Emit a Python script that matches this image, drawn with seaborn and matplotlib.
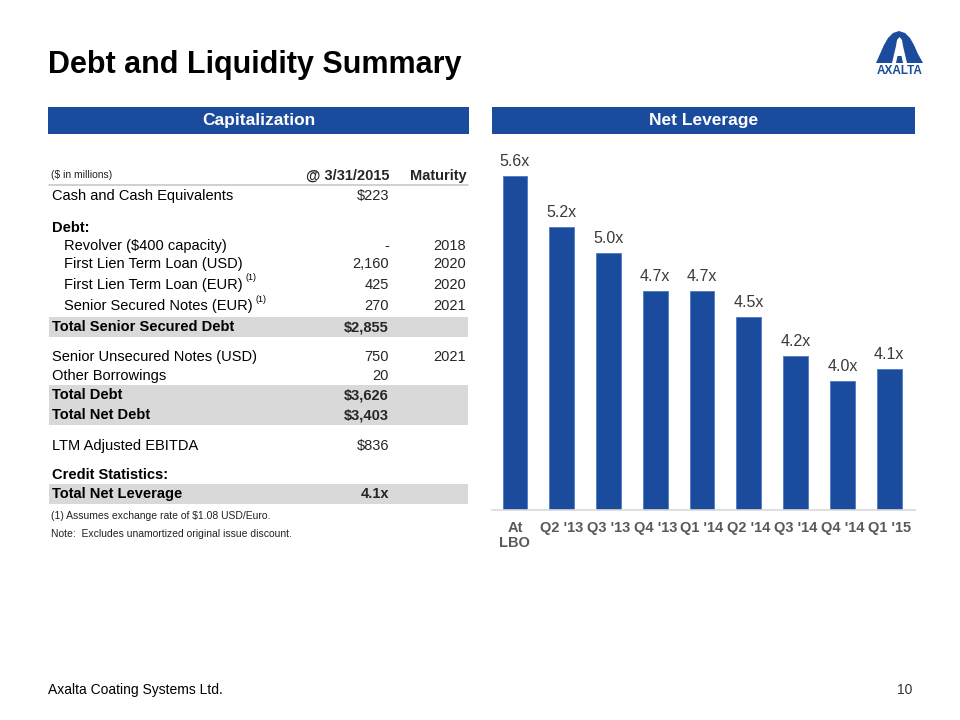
import numpy as np
import pandas as pd
import matplotlib
matplotlib.use("Agg")
import matplotlib.pyplot as plt
import seaborn as sns
from matplotlib.patches import Rectangle, Polygon

# ---- data ----
periods = ["At\nLBO", "Q2 '13", "Q3 '13", "Q4 '13", "Q1 '14", "Q2 '14", "Q3 '14", "Q4 '14", "Q1 '15"]
leverage = [5.6, 5.2, 5.0, 4.7, 4.7, 4.5, 4.2, 4.0, 4.1]

row_labels = ["Cash and Cash Equivalents", "Debt:", "Revolver ($400 capacity)",
              "First Lien Term Loan (USD)", "First Lien Term Loan (EUR)",
              "Senior Secured Notes (EUR)", "Total Senior Secured Debt",
              "Senior Unsecured Notes (USD)", "Other Borrowings", "Total Debt",
              "Total Net Debt", "LTM Adjusted EBITDA", "Credit Statistics:",
              "Total Net Leverage"]
row_values = ["$223", "", "-", "2,160", "425", "270", "$2,855", "750", "20",
              "$3,626", "$3,403", "$836", "", "4.1x"]
row_maturity = ["", "", "2018", "2020", "2020", "2021", "", "2021", "", "", "", "", "", ""]
footnoted = ["First Lien Term Loan (EUR)", "Senior Secured Notes (EUR)"]
footnotes = ["(1) Assumes exchange rate of $1.08 USD/Euro.",
             "Note:  Excludes unamortized original issue discount."]

# ---- layout / style ----
bold_rows = ["Debt:", "Total Senior Secured Debt", "Total Debt", "Total Net Debt",
             "Credit Statistics:", "Total Net Leverage"]
shaded_rows = ["Total Senior Secured Debt", "Total Debt", "Total Net Debt", "Total Net Leverage"]
indented_rows = ["Revolver ($400 capacity)", "First Lien Term Loan (USD)",
                 "First Lien Term Loan (EUR)", "Senior Secured Notes (EUR)"]
row_y = [196, 228, 246, 264, 285, 306, 327, 357, 376, 395, 415, 446, 475, 494]
row_h = 20

BLUE = "#1B4B9C"
sns.set_theme(style="white")
plt.rcParams["font.family"] = ["Liberation Sans", "DejaVu Sans"]

fig = plt.figure(figsize=(9.6, 7.2), dpi=100)
bg = fig.add_axes([0, 0, 1, 1])
bg.set_xlim(0, 960)
bg.set_ylim(720, 0)
bg.axis("off")

# title + logo
bg.text(48, 65, "Debt and Liquidity Summary", fontsize=22, fontweight="bold",
        color="black", va="center", ha="left")
arch = [(876, 63), (880, 54), (884, 45), (888, 38), (893, 33), (899, 31), (905, 33),
        (910, 38), (914, 45), (918, 54), (923, 63)]
bg.add_patch(Polygon(arch, closed=True, color=BLUE, lw=0))
inner = [(892, 63), (896, 46), (897, 40), (899.5, 37), (902, 40), (903, 46), (907, 63),
         (903, 63), (901.5, 56), (897.5, 56), (896, 63)]
bg.add_patch(Polygon(inner, closed=True, color="white", lw=0))
bg.text(900, 71, "AXALTA", fontsize=8.5, fontweight="bold", color=BLUE, ha="center", va="center")

# section headers
for x0, x1, name in [(48, 469, "Capitalization"), (492, 915, "Net Leverage")]:
    bg.add_patch(Rectangle((x0, 107), x1 - x0, 27, color=BLUE, lw=0))
    bg.text((x0 + x1) / 2, 121, name, fontsize=12.5, fontweight="bold", color="white",
            ha="center", va="center")

# table header
bg.text(51, 175, "($ in millions)", fontsize=7.5, color="#222222", va="center")
bg.text(389, 176, "@ 3/31/2015", fontsize=10.5, fontweight="bold", ha="right", va="center")
bg.text(467, 176, "Maturity", fontsize=10.5, fontweight="bold", ha="right", va="center")
bg.plot([49, 468], [185, 185], color="#C8C8C8", lw=1.2)

renderer = fig.canvas.get_renderer()
for label, val, mat, y in zip(row_labels, row_values, row_maturity, row_y):
    weight = "bold" if label in bold_rows else "normal"
    if label in shaded_rows:
        bg.add_patch(Rectangle((49, y - row_h / 2), 419, row_h, color="#D9D9D9", lw=0, zorder=0))
    x = 64 if label in indented_rows else 52
    t = bg.text(x, y, label, fontsize=10.5, fontweight=weight, color="black", va="center")
    if label in footnoted:
        ext = t.get_window_extent(renderer)
        bg.text(ext.x1 + 3, y - 7, "(1)", fontsize=6.5, color="black", va="center")
    bg.text(389, y, val, fontsize=10.5, fontweight=weight, ha="right", va="center")
    bg.text(466, y, mat, fontsize=10.5, ha="right", va="center")

bg.text(51, 516, footnotes[0], fontsize=7.5, color="#222222", va="center")
bg.text(51, 534, footnotes[1], fontsize=7.5, color="#222222", va="center")

# footer
bg.text(48, 690, "Axalta Coating Systems Ltd.", fontsize=10, color="black", va="center")
bg.text(912, 690, "10", fontsize=10, color="#333333", va="center", ha="right")

# ---- bar chart ----
ax = fig.add_axes([492 / 960, (720 - 510) / 720, 423 / 960, 360 / 720])
df = pd.DataFrame({"period": periods, "leverage": leverage})
sns.barplot(data=df, x="period", y="leverage", color=BLUE, width=0.53,
            saturation=1, edgecolor="#4F7BC4", linewidth=0.6, ax=ax)
ax.set_ylim(3.0, 5.8)
ax.set_xlim(-0.49, 8.55)
ax.bar_label(ax.containers[0], labels=[f"{v:.1f}x" for v in leverage],
             padding=5, fontsize=11.5, color="#3A3A3A")
ax.set_xlabel("")
ax.set_ylabel("")
ax.set_yticks([])
for s in ["top", "right", "left"]:
    ax.spines[s].set_visible(False)
ax.spines["bottom"].set_color("#D9D9D9")
ax.spines["bottom"].set_linewidth(1.2)
ax.tick_params(axis="x", length=0, pad=8)
for lbl in ax.get_xticklabels():
    lbl.set_fontweight("bold")
    lbl.set_fontsize(10.5)
    lbl.set_color("#595959")
    lbl.set_linespacing(1.1)
ax.patch.set_alpha(0)

fig.savefig("out.png", dpi=100)
